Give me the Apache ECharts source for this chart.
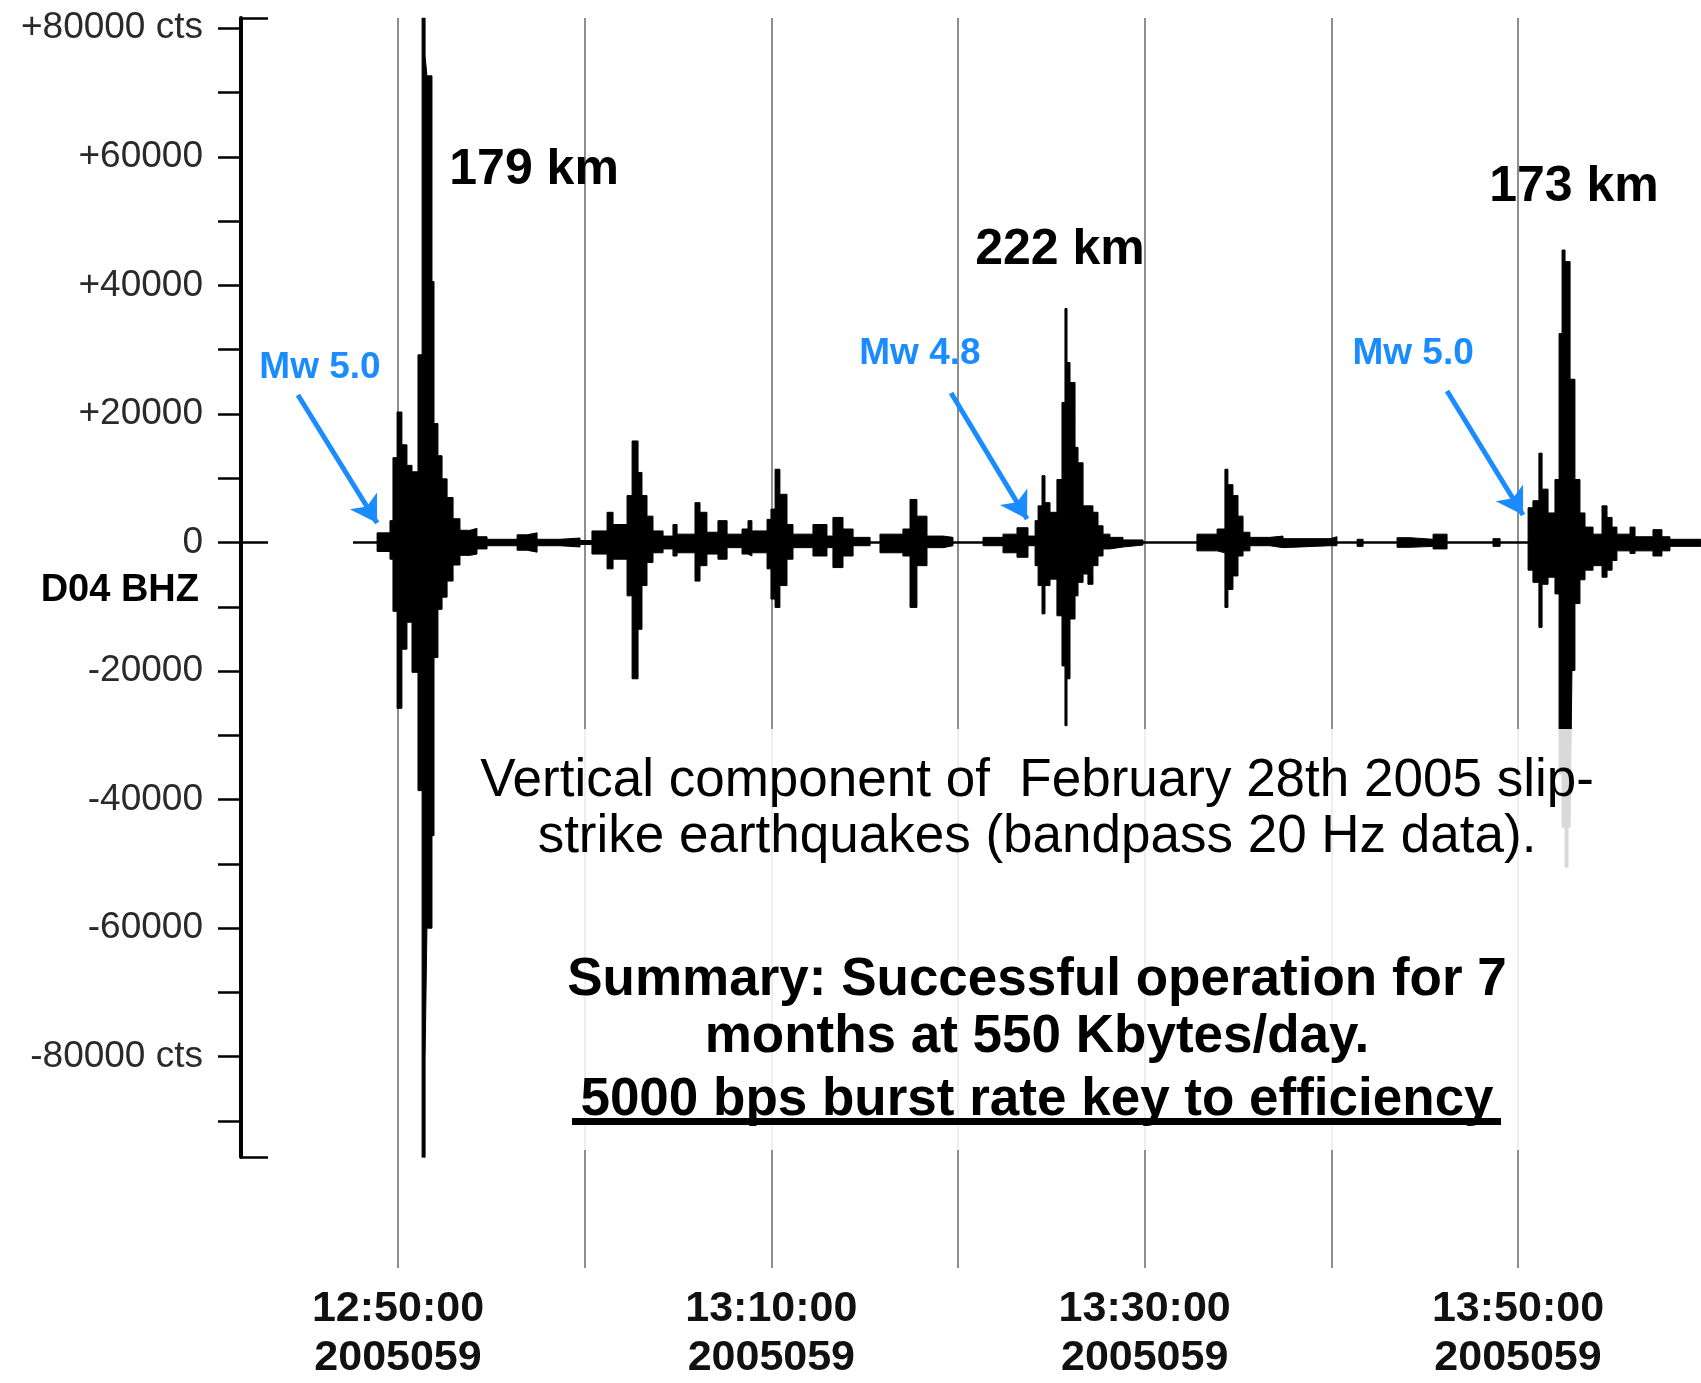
<!DOCTYPE html>
<html>
<head>
<meta charset="utf-8">
<script src="https://cdn.jsdelivr.net/npm/echarts/dist/echarts.min.js"></script>
<style>
html,body{margin:0;padding:0;background:#fff;}
#chart{width:1701px;height:1383px;}
</style>
</head>
<body>
<div id="chart"></div>
<script>
// ---- time axis (minutes after 12:00:00, day 2005059) ----
const xGridTicks = [50, 60, 70, 80, 90, 100, 110];
const xLabelValues = [50, 70, 90, 110];
const xLabelTexts = ['12:50:00', '13:10:00', '13:30:00', '13:50:00'];
const xDayLabel = '2005059';

// ---- amplitude axis (counts) ----
const yTickValues = [80000, 70000, 60000, 50000, 40000, 30000, 20000, 10000, 0,
  -10000, -20000, -30000, -40000, -50000, -60000, -70000, -80000, -90000];
const yLabelValues = [80000, 60000, 40000, 20000, 0, -20000, -40000, -60000, -80000];
const yLabelTexts = ['+80000 cts', '+60000', '+40000', '+20000', '0', '-20000', '-40000', '-60000', '-80000 cts'];
const yMin = -95600, yMax = 81600;
const channelName = 'D04 BHZ';

// ---- seismogram envelope (step segments: start time in minutes, max and min counts) ----
const envT = [47.59, 48.88, 49.57, 49.73, 49.95, 50.21, 50.48, 50.75, 51.07, 51.29,
  51.45, 51.55, 51.82, 51.93, 52.14, 52.36, 52.63, 52.95, 53.32, 53.86,
  54.23, 54.77, 56.38, 56.91, 57.45, 58.68, 59.75, 60.39, 61.20, 61.52,
  62.27, 62.54, 62.86, 63.07, 63.34, 63.66, 64.20, 64.73, 64.95, 65.91,
  66.18, 66.55, 67.14, 67.63, 68.43, 68.75, 68.96, 69.77, 69.98, 70.20,
  70.46, 70.84, 71.16, 72.23, 72.98, 73.30, 73.84, 74.38, 75.29, 75.82,
  77.05, 77.43, 77.80, 78.34, 79.20, 79.73, 81.34, 82.41, 83.16, 83.75,
  84.13, 84.29, 84.50, 84.66, 84.93, 85.30, 85.57, 85.73, 85.84, 86.00,
  86.27, 86.43, 86.70, 86.96, 87.23, 87.50, 87.77, 88.14, 88.84, 89.91,
  92.80, 93.88, 94.30, 94.46, 94.73, 95.00, 95.27, 95.64, 96.71, 97.41,
  99.93, 100.30, 101.38, 101.70, 103.52, 104.21, 105.45, 106.20, 108.66, 109.04,
  110.54, 110.80, 111.12, 111.29, 111.61, 111.98, 112.20, 112.36, 112.52, 112.68,
  112.79, 112.89, 113.05, 113.32, 113.59, 114.02, 114.50, 114.77, 115.04, 115.30,
  116.00, 116.27, 117.23, 117.71, 118.14, 119.80];
const envHi = [0, 1500, 3400, 13200, 20300, 15200, 12000, 11000, 29200, 81600,
  75700, 72600, 40600, 18500, 13500, 9900, 7000, 3700, 1900, 2200,
  900, 500, 1200, 1500, 500, 700, 300, 1800, 4700, 2800,
  7300, 15800, 10900, 7300, 4100, 1800, 1000, 2800, 1300, 6200,
  4700, 1600, 3400, 1300, 2100, 3400, 1800, 3600, 5200, 11400,
  7500, 2800, 1300, 2800, 1000, 3900, 2100, 800, 0, 1300,
  2100, 6700, 4100, 1000, 800, 0, 800, 1300, 2300, 1000,
  3400, 5700, 10400, 6200, 4700, 9800, 21800, 36400, 28000, 24900,
  14800, 12400, 5700, 5700, 4700, 2600, 1300, 800, 400, 0,
  1300, 2100, 11400, 9000, 7300, 4100, 1600, 800, 1000, 600,
  900, 0, 500, 0, 750, 500, 1300, 0, 600, 0,
  5400, 6500, 13900, 8300, 4600, 9800, 32500, 45500, 43700, 43700,
  25400, 25400, 9800, 4600, 2400, 1300, 5700, 3900, 2400, 1300,
  2400, 900, 2000, 900, 500, 500];
const envLo = [0, -1400, -2600, -10700, -25800, -16600, -12400, -20200, -38600, -95800,
  -80200, -60000, -45600, -17900, -10400, -8500, -6000, -3500, -2000, -1800,
  -1000, -500, -1200, -1500, -500, -700, -300, -1800, -4100, -2600,
  -8300, -21200, -13500, -6700, -3100, -1600, -1000, -2100, -1600, -6000,
  -3600, -1800, -2600, -800, -1800, -2100, -1600, -4100, -8800, -10100,
  -6700, -2600, -800, -2100, -800, -3900, -2100, -500, 0, -1600,
  -2100, -10100, -3600, -800, -500, 0, -500, -1600, -2300, -500,
  -3600, -6700, -11100, -6700, -5700, -11400, -19200, -28500, -21200, -11900,
  -8300, -6200, -4900, -6500, -3600, -2100, -1000, -700, -400, 0,
  -1300, -1600, -10100, -7300, -5200, -2100, -1300, -500, -800, -500,
  -500, 0, -600, 0, -750, -600, -1000, 0, -600, 0,
  -4300, -6200, -13200, -6500, -5400, -8000, -36000, -44300, -50500, -44300,
  -44300, -19900, -9500, -5800, -4300, -3600, -5400, -4300, -2800, -1300,
  -1700, -1300, -2100, -1300, -600, -600];

// ---- annotations (time in minutes, counts) ----
const distLabels = ['179 km', '222 km', '173 km'];
const distT = [57.29, 85.46, 113.00];
const distV = [57950, 45510, 55310];
const magLabels = ['Mw 5.0', 'Mw 4.8', 'Mw 5.0'];
const magT = [45.82, 77.96, 104.38];
const magV = [27150, 29330, 29330];
const arrowFromT = [44.64, 79.63, 106.20];
const arrowFromV = [22950, 23260, 23570];
const arrowToT = [48.88, 83.70, 110.27];
const arrowToV = [3030, 3660, 4280];

const captionLines = ['Vertical component of  February 28th 2005 slip-', 'strike earthquakes (bandpass 20 Hz data).'];
const summaryLines = ['Summary: Successful operation for 7', 'months at 550 Kbytes/day.'];
const keyLine = '5000 bps burst rate key to efficiency';

// ---- layout ----
const W = 1701, H = 1383;
const FONT = '"Liberation Sans", Arial, Helvetica, sans-serif';
const plotTop = 18, axisBottomPx = 1157, gridBottomPx = 1285;
const axisLeftPx = 241, tickLeftPx = 398, tickRightPx = 1518;
const pxPerMin = (tickRightPx - tickLeftPx) / (xGridTicks[xGridTicks.length - 1] - xGridTicks[0]);
const xMinA = xGridTicks[0] - (tickLeftPx - axisLeftPx) / pxPerMin;
const xMaxA = xGridTicks[0] + (W - tickLeftPx) / pxPerMin;

const upper = envT.map((t, i) => [t, envHi[i]]);
const lower = envT.map((t, i) => [t, envLo[i]]);
const baseline = [[envT[0], 0], [envT[envT.length - 1], 0]];

const chart = echarts.init(document.getElementById('chart'), null, {renderer: 'canvas'});

const option = {
  animation: false,
  backgroundColor: '#ffffff',
  grid: [
    {left: axisLeftPx, right: 0, top: plotTop, bottom: H - axisBottomPx, containLabel: false},
    {left: tickLeftPx, right: W - tickRightPx, top: plotTop, bottom: H - gridBottomPx, containLabel: false}
  ],
  xAxis: [
    {gridIndex: 0, type: 'value', min: xMinA, max: xMaxA, show: false},
    {gridIndex: 1, type: 'value', min: xGridTicks[0], max: xGridTicks[xGridTicks.length - 1], interval: 10,
      axisLine: {show: false}, axisTick: {show: false},
      splitLine: {show: true, lineStyle: {color: '#8e8e8e', width: 2}},
      axisLabel: {
        margin: 17, fontSize: 43, fontWeight: 'bold', fontFamily: FONT, color: '#111', lineHeight: 49,
        formatter: v => {
          const i = xLabelValues.indexOf(Math.round(v));
          return i < 0 ? '' : xLabelTexts[i] + '\n' + xDayLabel;
        }
      }
    }
  ],
  yAxis: [
    {gridIndex: 0, type: 'value', min: yMin, max: yMax, position: 'left',
      axisLine: {show: true, lineStyle: {color: '#000', width: 4}},
      axisTick: {show: true, inside: false, length: 23, customValues: yTickValues, lineStyle: {color: '#000', width: 2.5}},
      axisLabel: {show: true, customValues: yLabelValues, margin: 38, fontSize: 37, fontFamily: FONT, color: '#2a2a2a',
        formatter: v => { const i = yLabelValues.indexOf(v); return i < 0 ? '' : yLabelTexts[i]; }},
      splitLine: {show: false}
    },
    {gridIndex: 0, type: 'value', min: yMin, max: yMax, position: 'left',
      axisLine: {show: false},
      axisTick: {show: true, inside: true, length: 27, customValues: [yMin, 0, yMax], lineStyle: {color: '#000', width: 2.5}},
      axisLabel: {show: false}, splitLine: {show: false}
    },
    {gridIndex: 1, type: 'value', min: 0, max: 1, show: false}
  ],
  series: [
    {name: 'baseline', type: 'line', xAxisIndex: 0, yAxisIndex: 0, data: baseline, symbol: 'none',
      lineStyle: {color: '#000', width: 2.5}, z: 3, silent: true},
    {name: 'max', type: 'line', xAxisIndex: 0, yAxisIndex: 0, data: upper, step: 'end', symbol: 'none',
      lineStyle: {color: '#000', width: 1}, areaStyle: {color: '#000', opacity: 1, origin: 0}, z: 4, silent: true},
    {name: 'min', type: 'line', xAxisIndex: 0, yAxisIndex: 0, data: lower, step: 'end', symbol: 'none',
      lineStyle: {color: '#000', width: 1}, areaStyle: {color: '#000', opacity: 1, origin: 0}, z: 4, silent: true},
    {name: 'distance', type: 'scatter', xAxisIndex: 0, yAxisIndex: 0, symbolSize: 1, z: 6, silent: true,
      itemStyle: {color: 'rgba(0,0,0,0)', opacity: 1},
      data: distT.map((t, i) => ({value: [t, distV[i]], name: distLabels[i]})),
      label: {show: true, position: 'inside', formatter: p => p.name, fontSize: 50, fontWeight: 'bold',
        fontFamily: FONT, color: '#000', opacity: 1, textBorderWidth: 0}
    },
    {name: 'magnitude', type: 'scatter', xAxisIndex: 0, yAxisIndex: 0, symbolSize: 1, z: 6, silent: true,
      itemStyle: {color: 'rgba(0,0,0,0)', opacity: 1},
      data: magT.map((t, i) => ({value: [t, magV[i]], name: magLabels[i]})),
      label: {show: true, position: 'inside', formatter: p => p.name, fontSize: 37, fontWeight: 'bold',
        fontFamily: FONT, color: '#1a8cff', opacity: 1, textBorderWidth: 0},
      markLine: {silent: true, symbol: ['none', 'arrow'], symbolSize: [24, 26],
        lineStyle: {color: '#1a8cff', width: 5, type: 'solid', opacity: 1}, label: {show: false},
        data: arrowFromT.map((t, i) => [{coord: [t, arrowFromV[i]]}, {coord: [arrowToT[i], arrowToV[i]]}])
      }
    }
  ],
  graphic: [
    {type: 'text', z: 50, style: {text: channelName, x: 199, y: 591, textAlign: 'right', textVerticalAlign: 'middle',
      font: 'bold 38px ' + FONT, fill: '#000'}},
    {type: 'rect', z: 90, shape: {x: 460, y: 729, width: W - 460, height: 1150 - 729},
      style: {fill: 'rgba(255,255,255,0.85)'}},
    {type: 'text', z: 100, style: {text: captionLines[0], x: 1037, y: 781, textAlign: 'center', textVerticalAlign: 'middle',
      font: '53px ' + FONT, fill: '#000'}},
    {type: 'text', z: 100, style: {text: captionLines[1], x: 1037, y: 837, textAlign: 'center', textVerticalAlign: 'middle',
      font: '53px ' + FONT, fill: '#000'}},
    {type: 'text', z: 100, style: {text: summaryLines[0], x: 1037, y: 980, textAlign: 'center', textVerticalAlign: 'middle',
      font: 'bold 53px ' + FONT, fill: '#000'}},
    {type: 'text', z: 100, style: {text: summaryLines[1], x: 1037, y: 1037, textAlign: 'center', textVerticalAlign: 'middle',
      font: 'bold 53px ' + FONT, fill: '#000'}},
    {type: 'text', z: 100, style: {text: keyLine, x: 1037, y: 1100, textAlign: 'center', textVerticalAlign: 'middle',
      font: 'bold 53px ' + FONT, fill: '#000'}},
    {type: 'rect', z: 100, shape: {x: 572, y: 1118, width: 929, height: 7}, style: {fill: '#000'}}
  ]
};
chart.setOption(option);
</script>
</body>
</html>
